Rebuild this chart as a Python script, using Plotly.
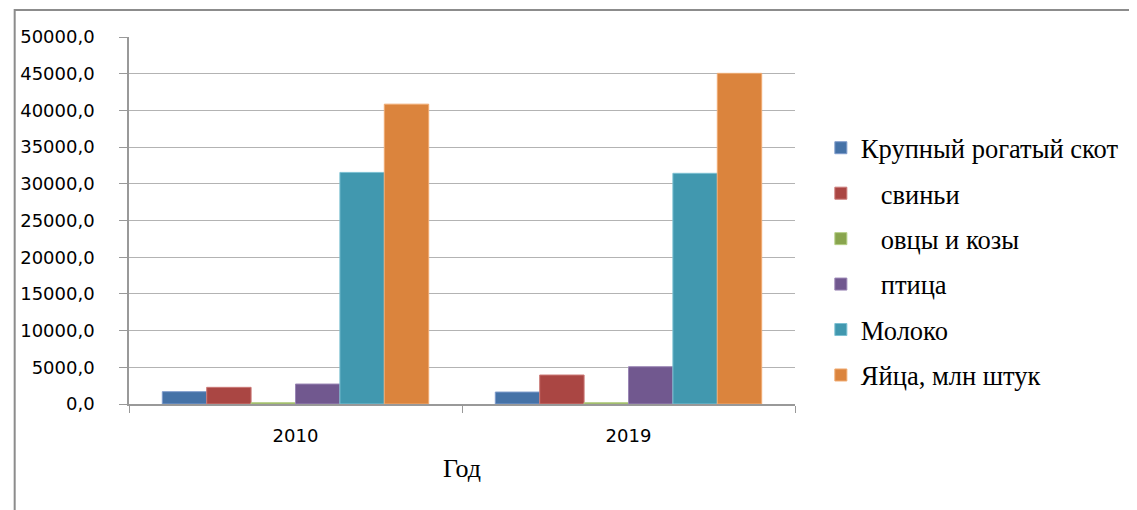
import plotly.graph_objects as go

years = ["2010", "2019"]
series_names = [
    "Крупный рогатый скот",
    "\u00a0\u00a0\u00a0свиньи",
    "\u00a0\u00a0\u00a0овцы и козы",
    "\u00a0\u00a0\u00a0птица",
    "Молоко",
    "Яйца, млн штук",
]
cattle = [1680, 1630]
pigs = [2270, 3950]
sheep_goats = [180, 180]
poultry = [2720, 5080]
milk = [31550, 31430]
eggs = [40850, 45050]
values = [cattle, pigs, sheep_goats, poultry, milk, eggs]

colors = ["#4572A7", "#AA4643", "#89A54E", "#71588F", "#4198AF", "#DB843D"]
outlines = ["#7f9ccc", "#cc7a78", "#b5cf86", "#9a86b5", "#7cc0d2", "#f0ab72"]

fig = go.Figure()
for i, (name, vals) in enumerate(zip(series_names, values)):
    fig.add_trace(go.Bar(
        x=years, y=vals, name=name,
        marker=dict(color=colors[i], line=dict(color=outlines[i], width=1)),
        legendgroup=f"g{i}",
    ))

# page body has an 8px margin, so figure coords = target - 8
OFF = 8
W, H = 1137, 510
L, T = 125 - OFF, 37 - OFF
pw, ph = 670, 367
R = W - L - pw
B = H - T - ph

def px_x(p):
    return (p - OFF - L) / pw

def px_y(p):
    return (T + ph - (p - OFF)) / ph

fig.update_layout(
    width=W, height=H,
    margin=dict(l=L, r=R, t=T, b=B, pad=0),
    paper_bgcolor="white", plot_bgcolor="white",
    barmode="group", bargap=0.2, bargroupgap=0,
    separators=", ",
    showlegend=True,
    legend=dict(
        x=px_x(821), y=px_y(124), xanchor="left", yanchor="top",
        font=dict(family="Liberation Serif", size=26.5, color="black"),
        tracegroupgap=8, itemwidth=30,
        bgcolor="rgba(0,0,0,0)",
    ),
    xaxis=dict(
        type="category", tickson="boundaries", ticks="outside", ticklen=7,
        tickcolor="#999999", showline=True, linecolor="#999999", linewidth=1.5,
        showgrid=False,
        tickfont=dict(family="DejaVu Sans", size=18, color="black"),
        ticklabelstandoff=15,
        title=dict(text="Год", font=dict(family="Liberation Serif", size=26, color="black"), standoff=13),
    ),
    yaxis=dict(
        range=[0, 50000], dtick=5000, tickformat=".1f",
        ticks="outside", ticklen=8, tickcolor="#999999",
        showline=True, linecolor="#999999", linewidth=1.5,
        showgrid=True, gridcolor="#b3b3b3", gridwidth=1.2,
        zeroline=False,
        tickfont=dict(family="DejaVu Sans", size=18, color="black"),
        ticklabelstandoff=21,
    ),
    shapes=[dict(
        type="rect", xref="paper", yref="paper",
        x0=px_x(10), x1=px_x(1150), y0=px_y(525), y1=px_y(10),
        line=dict(color="#8c8c8c", width=2), fillcolor="rgba(0,0,0,0)", layer="below",
    )],
)

fig.write_html("out.html")
